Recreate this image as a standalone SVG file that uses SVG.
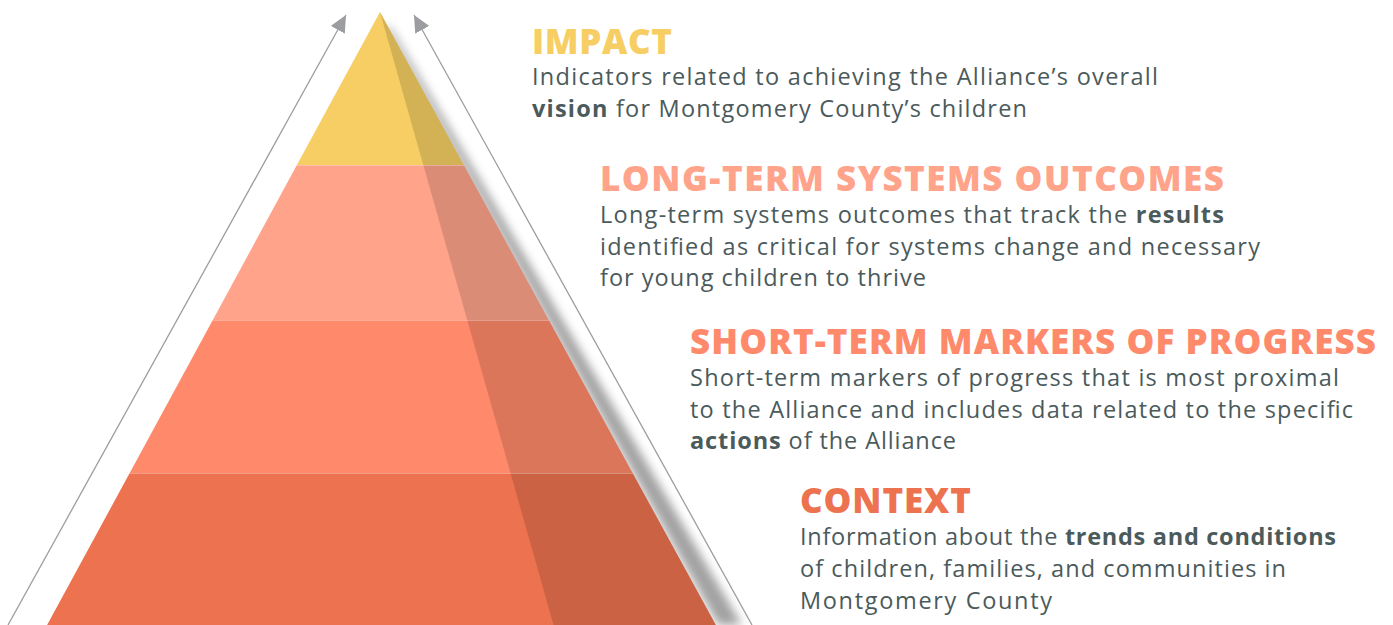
<svg xmlns="http://www.w3.org/2000/svg" width="1393" height="625" viewBox="0 0 1393 625">
<defs>
<style>
.h{font-family:"Open Sans","Liberation Sans",sans-serif;font-weight:800;font-size:35px}
.b{font-family:"Open Sans","Liberation Sans",sans-serif;font-size:23.5px;fill:#4b5a5b}
.b tspan.k{font-weight:700}
.arr{stroke:#9c9da1;stroke-width:1.3;fill:none}
.sep{stroke:#ffffff;stroke-opacity:0.3;stroke-width:1}
</style>
<marker id="ah" markerUnits="userSpaceOnUse" markerWidth="18" markerHeight="16" viewBox="0 0 18 16" refX="17" refY="8" orient="auto">
<path d="M0,0 L17,8 L0,16 z" fill="#9c9da1"/>
</marker>
<filter id="blur" x="-20%" y="-20%" width="140%" height="140%">
<feGaussianBlur stdDeviation="5"/>
</filter>
</defs>
<rect width="1393" height="625" fill="#ffffff"/>
<g id="connectors">
<line class="arr" x1="8" y1="625" x2="346" y2="15" marker-end="url(#ah)"/>
<line class="arr" x1="752" y1="625" x2="414" y2="15" marker-end="url(#ah)"/>
</g>
<g id="pyramid">
<polygon points="383,24 718,625 742,625 392,30" fill="#7a7a7a" opacity="0.7" filter="url(#blur)"/>
<g id="impact-band"><polygon points="380,12 463.8,165 296.9,165" fill="#F6CE63"/></g>
<g id="longterm-band"><polygon points="296.9,165 463.8,165 548.8,320 212.8,320" fill="#FFA38A"/></g>
<g id="shortterm-band"><polygon points="212.8,320 548.8,320 632.6,473 129.7,473" fill="#FF8A6B"/></g>
<g id="context-band"><polygon points="129.7,473 632.6,473 715.9,625 47.1,625" fill="#ED7350"/></g>
<polygon points="380,12 715.9,625 553.5,625" fill="#000000" opacity="0.14"/>
<line class="sep" x1="296.9" y1="165.5" x2="463.8" y2="165.5"/>
<line class="sep" x1="212.8" y1="320.5" x2="548.8" y2="320.5"/>
<line class="sep" x1="129.7" y1="473.5" x2="632.6" y2="473.5"/>
</g>
<g id="impact-text">
<text class="h" x="532" y="54" fill="#F6CE63" textLength="140">IMPACT</text>
<text class="b" x="532" y="85" textLength="626">Indicators related to achieving the Alliance’s overall</text>
<text class="b" x="532" y="117" textLength="495"><tspan class="k">vision</tspan> for Montgomery County’s children</text>
</g>
<g id="longterm-text">
<text class="h" x="600" y="191" fill="#FFA38A" textLength="624">LONG-TERM SYSTEMS OUTCOMES</text>
<text class="b" x="600" y="223" textLength="624">Long-term systems outcomes that track the <tspan class="k">results</tspan></text>
<text class="b" x="600" y="255" textLength="660">identified as critical for systems change and necessary</text>
<text class="b" x="600" y="286" textLength="326">for young children to thrive</text>
</g>
<g id="shortterm-text">
<text class="h" x="690" y="354" fill="#FF8A6B" textLength="686">SHORT-TERM MARKERS OF PROGRESS</text>
<text class="b" x="690" y="386" textLength="649">Short-term markers of progress that is most proximal</text>
<text class="b" x="690" y="418" textLength="663">to the Alliance and includes data related to the specific</text>
<text class="b" x="690" y="449" textLength="266"><tspan class="k">actions</tspan> of the Alliance</text>
</g>
<g id="context-text">
<text class="h" x="800" y="513" fill="#ED7350" textLength="171">CONTEXT</text>
<text class="b" x="800" y="545" textLength="536">Information about the <tspan class="k">trends and conditions</tspan></text>
<text class="b" x="800" y="577" textLength="486">of children, families, and communities in</text>
<text class="b" x="800" y="609" textLength="252">Montgomery County</text>
</g>
</svg>
